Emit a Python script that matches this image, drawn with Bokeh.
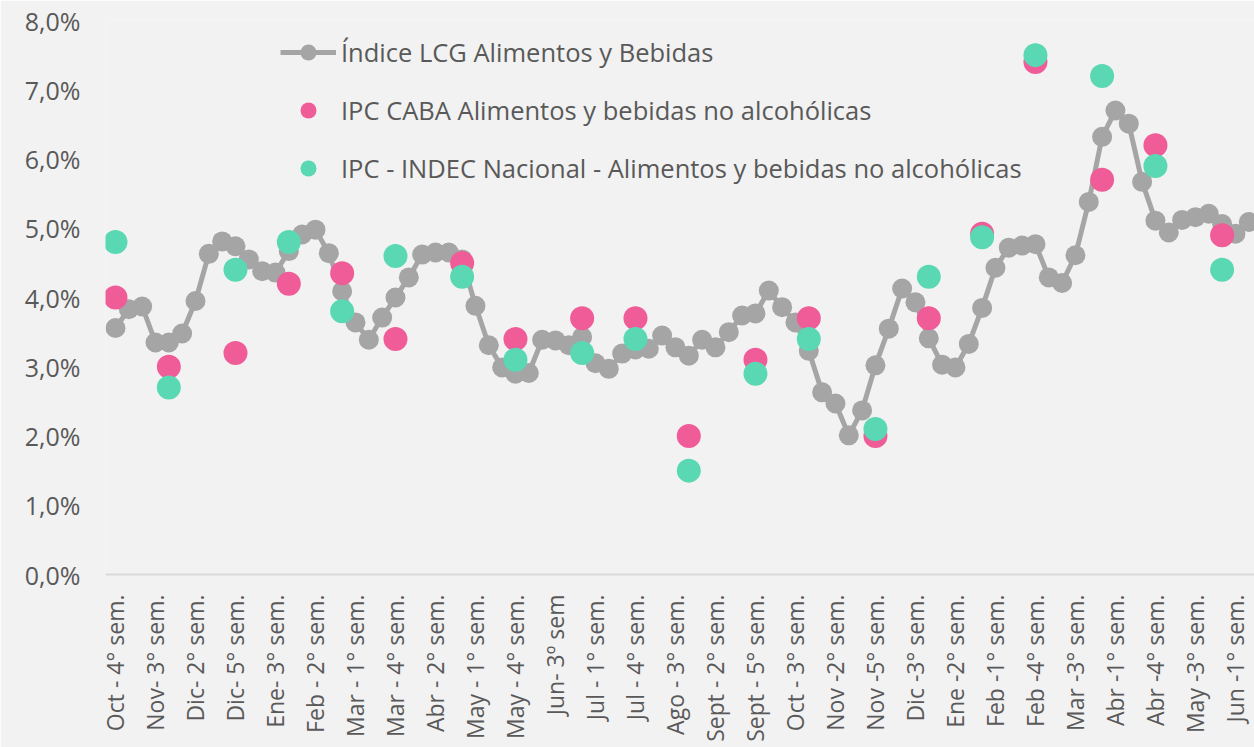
import math
from bokeh.plotting import figure
from bokeh.models import FixedTicker, Range1d, Legend, LegendItem, ColumnDataSource
from bokeh.embed import file_html
from bokeh.resources import INLINE

# ---- data ----
weeks = [
    "Oct - 4° sem.", "Nov - 1° sem.", "Nov - 2° sem.", "Nov- 3° sem.", "Nov - 4° sem.",
    "Dic - 1° sem.", "Dic- 2° sem.", "Dic - 3° sem.", "Dic - 4° sem.", "Dic- 5° sem.",
    "Ene - 1° sem.", "Ene - 2° sem.", "Ene- 3° sem.", "Ene - 4° sem.", "Feb - 1° sem.",
    "Feb - 2° sem.", "Feb - 3° sem.", "Feb - 4° sem.", "Mar - 1° sem.", "Mar - 2° sem.",
    "Mar - 3° sem.", "Mar - 4° sem.", "Mar - 5° sem.", "Abr - 1° sem.", "Abr - 2° sem.",
    "Abr - 3° sem.", "Abr - 4° sem.", "May - 1° sem.", "May - 2° sem.", "May - 3° sem.",
    "May - 4° sem.", "Jun - 1° sem.", "Jun - 2° sem.", "Jun- 3º sem", "Jun - 4° sem.",
    "Jun - 5° sem.", "Jul - 1° sem.", "Jul - 2° sem.", "Jul - 3° sem.", "Jul - 4° sem.",
    "Ago - 1° sem.", "Ago - 2° sem.", "Ago - 3° sem.", "Ago - 4° sem.", "Sept - 1° sem.",
    "Sept - 2° sem.", "Sept - 3° sem.", "Sept - 4° sem.", "Sept - 5° sem.", "Oct - 1° sem.",
    "Oct - 2° sem.", "Oct - 3° sem.", "Oct -4° sem.", "Nov -1° sem.", "Nov -2° sem.",
    "Nov -3° sem.", "Nov -4° sem.", "Nov -5° sem.", "Dic -1° sem.", "Dic -2° sem.",
    "Dic -3° sem.", "Dic -4° sem.", "Ene -1° sem.", "Ene -2° sem.", "Ene -3° sem.",
    "Ene -4° sem.", "Feb -1° sem.", "Feb -2° sem.", "Feb -3° sem.", "Feb -4° sem.",
    "Mar -1° sem.", "Mar -2° sem.", "Mar -3° sem.", "Mar -4° sem.", "Mar -5° sem.",
    "Abr -1° sem.", "Abr -2° sem.", "Abr -3° sem.", "Abr -4° sem.", "May -1° sem.",
    "May -2° sem.", "May -3° sem.", "May -4° sem.", "May -5° sem.", "Jun -1° sem.",
    "Jun -2° sem.",
]

lcg = [
    3.56, 3.83, 3.87, 3.35, 3.35, 3.48, 3.95, 4.63, 4.81, 4.74,
    4.55, 4.38, 4.36, 4.67, 4.91, 4.98, 4.64, 4.09, 3.64, 3.39,
    3.71, 4.00, 4.29, 4.62, 4.65, 4.65, 4.55, 3.88, 3.31, 2.99,
    2.90, 2.91, 3.39, 3.38, 3.31, 3.43, 3.05, 2.97, 3.19, 3.25,
    3.26, 3.45, 3.28, 3.16, 3.39, 3.28, 3.50, 3.74, 3.77, 4.10,
    3.86, 3.64, 3.23, 2.63, 2.47, 2.01, 2.37, 3.02, 3.55, 4.13,
    3.93, 3.41, 3.03, 2.99, 3.33, 3.85, 4.43, 4.72, 4.75, 4.77,
    4.29, 4.21, 4.61, 5.38, 6.32, 6.70, 6.51, 5.67, 5.11, 4.94,
    5.12, 5.16, 5.21, 5.06, 4.92, 5.09,
]

monthly_weeks = [
    "Oct - 4° sem.", "Nov - 4° sem.", "Dic- 5° sem.", "Ene - 4° sem.", "Feb - 4° sem.",
    "Mar - 4° sem.", "Abr - 4° sem.", "May - 4° sem.", "Jun - 5° sem.", "Jul - 4° sem.",
    "Ago - 4° sem.", "Sept - 5° sem.", "Oct -4° sem.", "Nov -5° sem.", "Dic -4° sem.",
    "Ene -4° sem.", "Feb -4° sem.", "Mar -5° sem.", "Abr -4° sem.", "May -5° sem.",
]
ipc_caba = [4.0, 3.0, 3.2, 4.2, 4.35, 3.4, 4.5, 3.4, 3.7, 3.7,
            2.0, 3.1, 3.7, 2.0, 3.7, 4.92, 7.4, 5.7, 6.2, 4.9]
ipc_indec = [4.8, 2.7, 4.4, 4.8, 3.8, 4.6, 4.3, 3.1, 3.2, 3.4,
             1.5, 2.9, 3.4, 2.1, 4.3, 4.87, 7.5, 7.2, 5.9, 4.4]

y_ticks = [0, 1, 2, 3, 4, 5, 6, 7, 8]
y_tick_labels = ["0,0%", "1,0%", "2,0%", "3,0%", "4,0%", "5,0%", "6,0%", "7,0%", "8,0%"]

label_lcg = "Índice LCG Alimentos y Bebidas"
label_caba = "IPC CABA Alimentos y bebidas no alcohólicas"
label_indec = "IPC - INDEC Nacional - Alimentos y bebidas no alcohólicas"

# ---- build ----
x_week = list(range(len(weeks)))
x_month = [weeks.index(w) for w in monthly_weeks]

src_lcg = ColumnDataSource(dict(x=x_week, y=lcg))
src_m = ColumnDataSource(dict(x=x_month, caba=ipc_caba, indec=ipc_indec))

BG = "#f2f2f2"
TXT = "#595959"
FONT = "Open Sans"

p = figure(
    width=1254, height=747,
    output_backend="svg", toolbar_location=None,
    x_range=Range1d(-0.75, 85.43), y_range=Range1d(0, 8),
    min_border_left=105, min_border_right=0, min_border_top=20, min_border_bottom=173,
    background_fill_color=BG, border_fill_color=BG, outline_line_color=None,
)

r_line = p.line("x", "y", source=src_lcg, line_color="#a5a5a5", line_width=5)
r_pts = p.scatter("x", "y", source=src_lcg, size=20, fill_color="#a5a5a5", line_color=None)
r_caba = p.scatter("x", "caba", source=src_m, size=24, fill_color="#f05c98", line_color=None)
r_indec = p.scatter("x", "indec", source=src_m, size=24, fill_color="#5ad8b4", line_color=None)

p.xgrid.grid_line_color = None
p.ygrid.grid_line_color = None

# y axis
ya = p.yaxis[0]
ya.ticker = FixedTicker(ticks=y_ticks)
ya.major_label_overrides = {t: l for t, l in zip(y_ticks, y_tick_labels)}
ya.axis_line_color = None
ya.major_tick_line_color = None
ya.minor_tick_line_color = None
ya.major_tick_out = 0
ya.major_tick_in = 0
ya.major_label_text_font = FONT
ya.major_label_text_font_size = "25px"
ya.major_label_text_color = TXT
ya.major_label_standoff = 25

# x axis
xa = p.xaxis[0]
shown = list(range(0, len(weeks), 3))
xa.ticker = FixedTicker(ticks=shown)
xa.major_label_overrides = {i: weeks[i] for i in shown}
xa.major_label_orientation = math.pi / 2
xa.axis_line_color = "#d9d9d9"
xa.axis_line_width = 2
xa.major_tick_line_color = None
xa.minor_tick_line_color = None
xa.major_tick_out = 0
xa.major_tick_in = 0
xa.major_label_text_font = FONT
xa.major_label_text_font_size = "23px"
xa.major_label_text_color = TXT
xa.major_label_standoff = 20

legend = Legend(
    items=[
        LegendItem(label=label_lcg, renderers=[r_line, r_pts]),
        LegendItem(label=label_caba, renderers=[r_caba]),
        LegendItem(label=label_indec, renderers=[r_indec]),
    ],
    location=(175, 386),
    glyph_width=56, glyph_height=40, label_height=40,
    spacing=18, padding=0, margin=0, label_standoff=5,
    border_line_color=None, background_fill_alpha=0,
    label_text_font=FONT, label_text_font_size="25.5px", label_text_color=TXT,
)
p.add_layout(legend)

open("out.html", "w").write(file_html(p, INLINE))
